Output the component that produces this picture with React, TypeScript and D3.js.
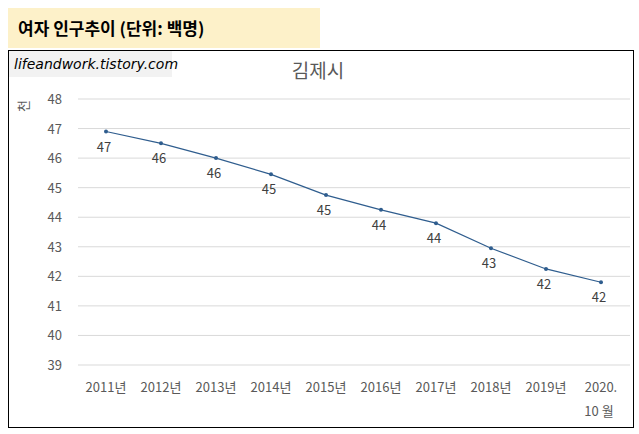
import React from "react";
import * as d3 from "d3";

const categories = ["2011년","2012년","2013년","2014년","2015년","2016년","2017년","2018년","2019년","2020.|10 월"];
const values = [46.9, 46.5, 46.0, 45.45, 44.75, 44.25, 43.8, 42.95, 42.25, 41.8];
const labels = ["47","46","46","45","45","44","44","43","42","42"];
const yTicks = [39,40,41,42,43,44,45,46,47,48];

export default function App() {
  const W = 639, H = 434;
  const x = d3.scalePoint<string>().domain(categories).range([106, 601]);
  const y = d3.scaleLinear().domain([39, 48]).range([365, 99]);
  const line = d3.line<number>().x((_, i) => x(categories[i])!).y(d => y(d));
  const font = "Malgun Gothic, 'Noto Sans CJK KR', sans-serif";
  return (
    <svg width={W} height={H} style={{ position: "absolute", left: 0, top: 0 }} fontFamily={font}>
      <rect x={0} y={0} width={W} height={H} fill="#fff" />
      <rect x={8} y={8} width={312} height={40} fill="#fdf1c9" />
      <text x={18} y={35} fontSize={17} fontWeight="bold" fill="#000">여자 인구추이 (단위: 백명)</text>
      <rect x={8.5} y={50.5} width={625} height={377} fill="#fff" stroke="#000" />
      <rect x={9} y={51} width={163} height={26} fill="#f2f2f2" />
      <text x={14} y={69} fontSize={14} fontStyle="italic" fill="#000" fontFamily="'DejaVu Sans', sans-serif">lifeandwork.tistory.com</text>
      <text x={318} y={78} fontSize={19} fill="#595959" textAnchor="middle">김제시</text>
      <text transform="translate(28,106) rotate(-90)" fontSize={13} fill="#595959" textAnchor="middle">천</text>
      {yTicks.map(t => (
        <g key={t}>
          <line x1={78} x2={630} y1={y(t)} y2={y(t)} stroke="#d9d9d9" />
          <text x={62} y={y(t) + 5} fontSize={13} fill="#595959" textAnchor="end">{t}</text>
        </g>
      ))}
      <path d={line(values)!} fill="none" stroke="#2f5d8e" strokeWidth={1.2} />
      {values.map((v, i) => (
        <g key={i}>
          <circle cx={x(categories[i])} cy={y(v)} r={2} fill="#2f5d8e" />
          <text x={x(categories[i])! - 2} y={y(v) + 20} fontSize={13} fill="#404040" textAnchor="middle">{labels[i]}</text>
        </g>
      ))}
      {categories.map((c, i) => c.split("|").map((p, j) => (
        <text key={c + j} x={x(c)! + (j === 1 ? -2 : 0)} y={392 + j * 24} fontSize={13} fill="#595959" textAnchor="middle">{p}</text>
      )))}
    </svg>
  );
}
